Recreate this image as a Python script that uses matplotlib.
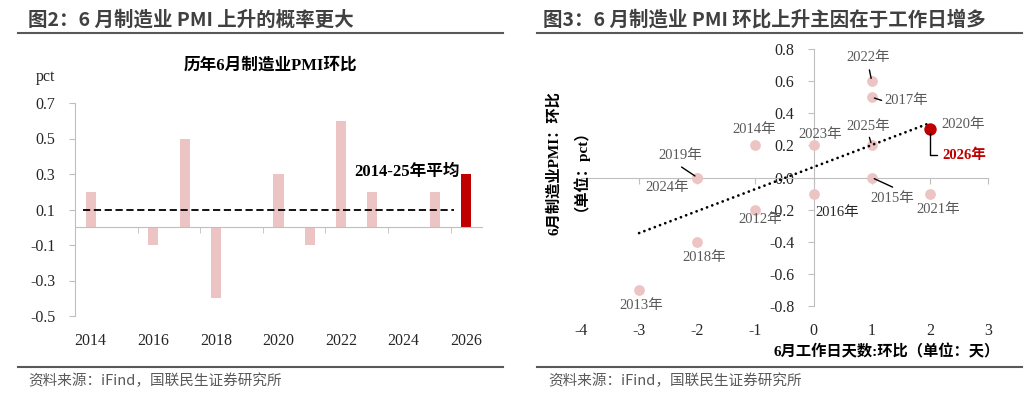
"""
6月制造业PMI：历年环比柱状图 + 工作日天数散点图
"""
import numpy as np
import matplotlib.pyplot as plt
from matplotlib.lines import Line2D

SERIF = ['Liberation Serif', 'Noto Sans CJK SC']
SANS = ['Noto Sans CJK SC', 'DejaVu Sans']
plt.rcParams['font.family'] = SERIF

# 图2 data
BAR_YEARS = [2014, 2015, 2016, 2017, 2018, 2019, 2020, 2021, 2022, 2023, 2024, 2025, 2026]
BAR_VALUES = [0.2, 0.0, -0.1, 0.5, -0.4, 0.0, 0.3, -0.1, 0.6, 0.2, 0.0, 0.2, 0.3]
AVG_VALUE = 0.1
AVG_LABEL = '2014-25年平均'

# 图3 data
SC_YEARS = [2012, 2013, 2014, 2015, 2016, 2017, 2018, 2019, 2020, 2021, 2022, 2023, 2024, 2025, 2026]
SC_DAYS = [-1, -3, -1, 1, 0, 1, -2, -2, 2, 2, 1, 0, -2, 1, 2]
SC_PMI = [-0.2, -0.7, 0.2, 0.0, -0.1, 0.5, -0.4, 0.0, 0.3, -0.1, 0.6, 0.2, 0.0, 0.2, 0.3]

# label placement for the scatter (x, y of text centre, leader end or None)
LABEL_POS = {
    2012: (-0.92, -0.26, None),
    2013: (-2.97, -0.80, None),
    2014: (-1.02, 0.30, None),
    2015: (1.36, -0.13, (1.36, -0.06)),
    2016: (0.40, -0.22, None),
    2017: (1.60, 0.48, (1.17, 0.48)),
    2018: (-1.88, -0.50, None),
    2019: (-2.30, 0.14, (-2.27, 0.065)),
    2020: (2.57, 0.33, None),
    2021: (2.14, -0.20, None),
    2022: (0.94, 0.75, (0.96, 0.67)),
    2023: (0.12, 0.27, None),
    2024: (-2.52, -0.06, None),
    2025: (0.94, 0.32, (0.96, 0.25)),
}

PINK = '#EDC4C4'
RED = '#C00000'
AXIS_GREY = '#BFBFBF'
LABEL_GREY = '#595959'
DARK = '#262626'

W, H = 1024, 400
fig = plt.figure(figsize=(W / 100, H / 100), dpi=100)


def fx(px):
    return px / W


def fy(py):
    return 1 - py / H


# headers / footers
fig.text(fx(28), fy(20), '图2：6 月制造业 PMI 上升的概率更大', family=SANS,
         fontsize=14, fontweight='bold', color='#404040', va='center')
fig.text(fx(543), fy(20), '图3：6 月制造业 PMI 环比上升主因在于工作日增多', family=SANS,
         fontsize=14, fontweight='bold', color='#404040', va='center')
for x0, x1 in [(18, 503), (537, 1022)]:
    fig.add_artist(Line2D([fx(x0), fx(x1)], [fy(33), fy(33)], color='#595959', lw=1.5))
    fig.add_artist(Line2D([fx(x0), fx(x1)], [fy(367), fy(367)], color='#595959', lw=1.5))
fig.text(fx(28), fy(381), '资料来源：iFind，国联民生证券研究所', family=SANS,
         fontsize=10.5, color=LABEL_GREY, va='center')
fig.text(fx(548), fy(381), '资料来源：iFind，国联民生证券研究所', family=SANS,
         fontsize=10.5, color=LABEL_GREY, va='center')

# ---- 图2: bar chart ----
ax1 = fig.add_axes([fx(75), fy(316), fx(482) - fx(75), fy(103) - fy(316)])
pos = np.arange(len(BAR_YEARS))
colors = [PINK] * (len(BAR_YEARS) - 1) + [RED]
ax1.bar(pos, BAR_VALUES, width=0.32, color=colors, zorder=2)
ax1.hlines(AVG_VALUE, -0.25, len(BAR_YEARS) - 1.4, colors='black',
           linestyles=(0, (4, 2)), lw=1.3, zorder=3)
ax1.text(8.43, 0.31, AVG_LABEL, fontsize=12, fontweight='bold', va='center', ha='left')

ax1.set_xlim(-0.5, len(BAR_YEARS) - 0.5)
ax1.set_ylim(-0.5, 0.7)
yt = np.round(np.arange(-5, 8, 2) / 10, 1)
ax1.set_yticks(yt, [f'{v:.1f}' for v in yt])
ax1.tick_params(axis='y', length=4, color=AXIS_GREY, pad=10, labelsize=11.5, labelcolor=DARK)
ax1.set_xticks([])
ax1.set_xticks(pos[1:-1:2] + 0.5, minor=True)
ax1.tick_params(axis='x', which='minor', length=4, color=AXIS_GREY, labelbottom=False)
for s in ['top', 'right']:
    ax1.spines[s].set_visible(False)
ax1.spines['left'].set_color(AXIS_GREY)
ax1.spines['bottom'].set_color(AXIS_GREY)
ax1.spines['bottom'].set_position(('data', 0))

sec1 = ax1.secondary_xaxis('bottom')
sec1.set_xticks(pos[::2], [str(y) for y in BAR_YEARS[::2]])
sec1.tick_params(length=0, pad=12, labelsize=11.5, labelcolor=DARK)
sec1.spines['bottom'].set_visible(False)

fig.text(fx(36), fy(77), 'pct', fontsize=11.5, color=DARK, va='center')
fig.text(fx(271), fy(66), '历年6月制造业PMI环比', fontsize=12, fontweight='bold',
         ha='center', va='center')

# ---- 图3: scatter ----
ax2 = fig.add_axes([fx(581), fy(306), fx(988) - fx(581), fy(49) - fy(306)])
hist_days = np.array(SC_DAYS[:-1])
hist_pmi = np.array(SC_PMI[:-1])
ax2.scatter(hist_days, hist_pmi, s=60, color=PINK, lw=0, zorder=3)
ax2.scatter(SC_DAYS[-1:], SC_PMI[-1:], s=80, color=RED, lw=0, zorder=5)

slope, intercept = np.polyfit(hist_days, hist_pmi, 1)
xs = np.array([hist_days.min(), hist_days.max()])
ax2.plot(xs, slope * xs + intercept, color='black', lw=2, ls=(0, (0.01, 2.0)),
         dash_capstyle='round', zorder=4)

for yr, xd, yp in zip(SC_YEARS[:-1], SC_DAYS[:-1], SC_PMI[:-1]):
    tx, ty, lead = LABEL_POS[yr]
    col = DARK if yr == 2016 else LABEL_GREY
    ax2.text(tx, ty, f'{yr}年', fontsize=10.5, color=col, ha='center', va='center', zorder=6)
    if lead is not None:
        ax2.annotate('', xy=(xd, yp), xytext=lead,
                     arrowprops=dict(arrowstyle='-', color='black', lw=1,
                                     shrinkA=0, shrinkB=2))
# 2026 highlight
ax2.annotate(f'{SC_YEARS[-1]}年', xy=(SC_DAYS[-1], SC_PMI[-1]), xytext=(2.22, 0.137),
             fontsize=10.5, fontweight='bold', color=RED, ha='left', va='center',
             arrowprops=dict(arrowstyle='-', color='black', lw=1, shrinkA=2, shrinkB=3,
                             connectionstyle='angle,angleA=0,angleB=90,rad=0'),
             zorder=6)

ax2.set_xlim(-4, 3)
ax2.set_ylim(-0.8, 0.8)
yt2 = np.round(np.arange(-8, 9, 2) / 10, 1)
ax2.set_yticks(yt2, [f'{v:.1f}' for v in yt2])
ax2.tick_params(axis='y', length=4, color=AXIS_GREY, pad=10, labelsize=11.5, labelcolor=DARK)
ax2.set_xticks(np.arange(-4, 4))
ax2.tick_params(axis='x', length=4, color=AXIS_GREY, labelbottom=False)
for s in ['top', 'right']:
    ax2.spines[s].set_visible(False)
for s in ['left', 'bottom']:
    ax2.spines[s].set_color(AXIS_GREY)
    ax2.spines[s].set_position(('data', 0))

sec2 = ax2.secondary_xaxis('bottom')
sec2.set_xticks(np.arange(-4, 4), [str(v) for v in np.arange(-4, 4)])
sec2.tick_params(length=0, pad=12, labelsize=11.5, labelcolor=DARK)
sec2.spines['bottom'].set_visible(False)

fig.text(fx(564), fy(163), '6月制造业PMI：环比\n（单位：pct）', fontsize=11, fontweight='bold',
         rotation=90, ha='center', va='center', multialignment='center')
fig.text(fx(1000), fy(352), '6月工作日天数:环比（单位：天）', fontsize=11, fontweight='bold',
         ha='right', va='center')

fig.savefig('out.png', dpi=100)
